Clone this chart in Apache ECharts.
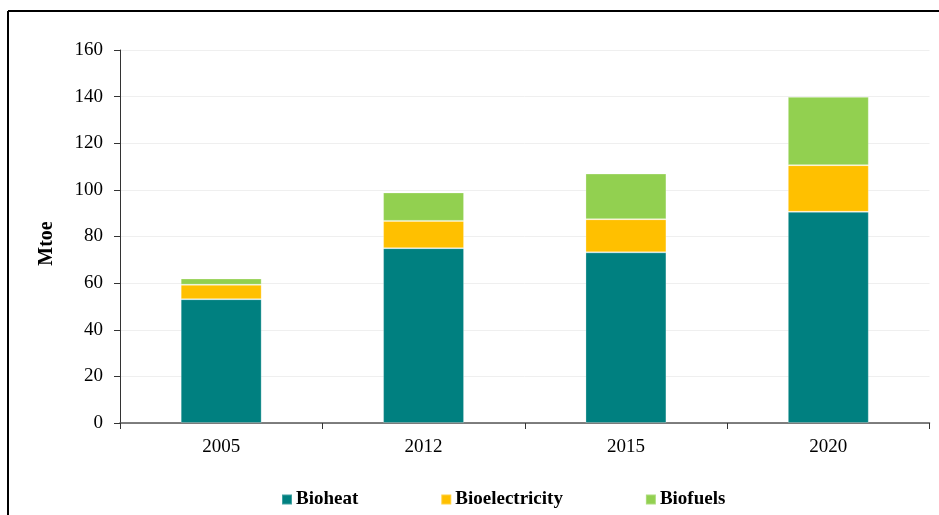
<!DOCTYPE html>
<html lang="en">

<head>
    <meta charset="UTF-8">
    <title>Bioenergy Mtoe</title>
    <script src="https://cdn.jsdelivr.net/npm/echarts@6/dist/echarts.min.js"></script>
    <style>
        body {
            margin: 0;
            padding: 0;
            background: #fff;
        }

        #chart {
            width: 939px;
            height: 515px;
        }
    </style>
</head>

<body>
    <div id="chart"></div>

    <script>
        // data
        const years = ['2005', '2012', '2015', '2020'];
        const bioheat = [53.1, 75.0, 73.2, 90.6];
        const bioelectricity = [6.2, 11.7, 14.2, 20.0];
        const biofuels = [2.7, 12.2, 19.6, 29.3];

        const serif = '"Liberation Serif", "Times New Roman", serif';

        const chart = echarts.init(document.getElementById('chart'));

        function barSeries(name, data, color) {
            return {
                name: name,
                type: 'bar',
                stack: 'total',
                data: data,
                barWidth: '40%',
                itemStyle: {
                    color: color,
                    borderColor: 'rgba(255,255,255,0.25)',
                    borderWidth: 1
                }
            };
        }

        chart.setOption({
            animation: false,
            grid: {
                left: 120,
                right: 9.5,
                top: 50,
                bottom: 92
            },
            // frame lines on top and left of the picture
            graphic: [
                { type: 'line', shape: { x1: 8, y1: 11, x2: 939, y2: 11 }, style: { stroke: '#000', lineWidth: 2 } },
                { type: 'line', shape: { x1: 8, y1: 11, x2: 8, y2: 515 }, style: { stroke: '#000', lineWidth: 2 } }
            ],
            legend: {
                left: 276,
                top: 485,
                itemWidth: 10,
                itemHeight: 10,
                itemGap: 82,
                icon: 'rect',
                textStyle: {
                    fontFamily: serif,
                    fontWeight: 'bold',
                    fontSize: 19,
                    color: '#000',
                    padding: [0, 0, 0, -1]
                },
                data: ['Bioheat', 'Bioelectricity', 'Biofuels']
            },
            xAxis: {
                type: 'category',
                data: years,
                axisLine: { lineStyle: { color: '#555', width: 1.5 } },
                axisTick: { show: true, length: 6, lineStyle: { color: '#333' } },
                axisLabel: {
                    fontFamily: serif,
                    fontSize: 19,
                    color: '#000',
                    margin: 15
                }
            },
            yAxis: {
                type: 'value',
                min: 0,
                max: 160,
                interval: 20,
                name: 'Mtoe',
                nameLocation: 'middle',
                nameGap: 63,
                nameRotate: 90,
                nameTextStyle: {
                    fontFamily: serif,
                    fontWeight: 'bold',
                    fontSize: 20,
                    color: '#000',
                    padding: [0, 14, 0, 0]
                },
                axisLine: { show: true, lineStyle: { color: '#333', width: 1 } },
                axisTick: { show: true, length: 6, lineStyle: { color: '#333' } },
                axisLabel: {
                    fontFamily: serif,
                    fontSize: 19,
                    color: '#000',
                    margin: 17
                },
                splitLine: { lineStyle: { color: '#efefef' } }
            },
            series: [
                barSeries('Bioheat', bioheat, '#008080'),
                barSeries('Bioelectricity', bioelectricity, '#ffc000'),
                barSeries('Biofuels', biofuels, '#92d050')
            ]
        });
    </script>
</body>

</html>
